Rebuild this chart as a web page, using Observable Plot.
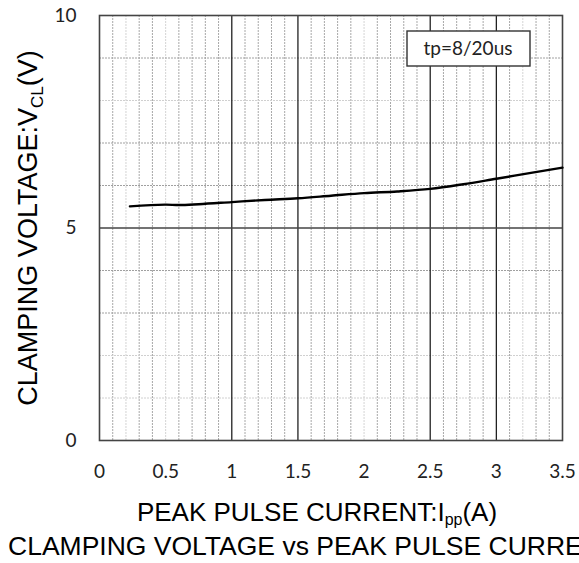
<!DOCTYPE html>
<html>
<head>
<meta charset="utf-8">
<script src="https://cdn.jsdelivr.net/npm/d3@7"></script>
<script src="https://cdn.jsdelivr.net/npm/@observablehq/plot@0.6"></script>
<style>
  html, body { margin: 0; padding: 0; background: #fff; }
  #chart svg { display: block; }
</style>
</head>
<body>
<div id="chart"></div>
<script>
// Data
const current = [0.23, 0.5, 0.6, 0.75, 1.0, 1.25, 1.5, 1.75, 2.0, 2.25, 2.5, 2.75, 3.0, 3.25, 3.5];
const voltage = [5.51, 5.55, 5.54, 5.56, 5.61, 5.66, 5.70, 5.76, 5.82, 5.86, 5.92, 6.03, 6.16, 6.29, 6.42];
const xTicks = [0, 0.5, 1, 1.5, 2, 2.5, 3, 3.5];
const yTicks = [0, 5, 10];
const xMajorGrid = [1, 1.5, 2.5, 3];
const xMinorDark = [0.1, 0.3, 0.4, 0.6, 0.7, 0.8, 0.9, 1.1, 1.2, 1.3, 1.4, 1.6, 1.7, 1.8, 1.9, 2.1, 2.2, 2.3, 2.4, 2.6, 2.7, 2.8, 2.9, 3.1, 3.3, 3.4];
const xMinorLight = [0.2, 0.5, 2.0, 3.2];
const yMajorGrid = [5];
const yMinorDark = [3, 4, 6, 7, 9];
const yMinorLight = [1, 2, 8];
const legendText = ["tp=8/20us"];

const data = current.map((c, i) => ({current: c, voltage: voltage[i]}));

const chart = Plot.plot({
  width: 579,
  height: 563,
  marginLeft: 99,
  marginRight: 17,
  marginTop: 15,
  marginBottom: 123,
  style: {background: "#fff"},
  x: {domain: [0, 3.5]},
  y: {domain: [0, 10]},
  marks: [
    Plot.ruleX(xMinorLight, {stroke: "#d4d4d4", strokeWidth: 1, strokeDasharray: "2,1"}),
    Plot.ruleX(xMinorDark, {stroke: "#a8a8a8", strokeWidth: 1, strokeDasharray: "2,1"}),
    Plot.ruleY(yMinorLight, {stroke: "#d0d0d0", strokeWidth: 1, strokeDasharray: "2,1"}),
    Plot.ruleY(yMinorDark, {stroke: "#a0a0a0", strokeWidth: 1, strokeDasharray: "2,1"}),
    Plot.ruleX(xMajorGrid, {stroke: "#222", strokeWidth: 1.3}),
    Plot.ruleY(yMajorGrid, {stroke: "#444", strokeWidth: 1.3}),
    Plot.frame({stroke: "#444", strokeWidth: 1.6}),
    Plot.line(data, {x: "current", y: "voltage", stroke: "#000", strokeWidth: 2.4, curve: "monotone-x"}),
    Plot.axisX(xTicks, {tickSize: 0, tickPadding: 24, fontSize: 19, fontFamily: "Lato", fill: "#222", label: null, tickFormat: d => String(d)}),
    Plot.axisY(yTicks, {tickSize: 0, tickPadding: 23, fontSize: 19, fontFamily: "Lato", fill: "#222", label: null, tickFormat: d => String(d)})
  ]
});
document.getElementById("chart").appendChild(chart);

const svg = d3.select(chart);
// Legend box and label
svg.append("rect")
  .attr("x", 407).attr("y", 31).attr("width", 123).attr("height", 35)
  .attr("fill", "#fff").attr("stroke", "#333").attr("stroke-width", 1.4);
svg.append("text")
  .attr("x", 468).attr("y", 55)
  .attr("text-anchor", "middle")
  .attr("font-family", "Lato").attr("font-size", 19).attr("fill", "#222")
  .text(legendText[0]);

// X axis title with subscript
const xt = svg.append("text")
  .attr("x", 317).attr("y", 521)
  .attr("text-anchor", "middle")
  .attr("font-family", "'Liberation Sans', Arial, sans-serif")
  .attr("font-size", 26).attr("fill", "#000");
xt.append("tspan").text("PEAK PULSE CURRENT:I");
xt.append("tspan").attr("font-size", 16).attr("dy", 4).text("pp");
xt.append("tspan").attr("dy", -4).text("(A)");

// Chart caption (clipped at right, as in reference)
svg.append("text")
  .attr("x", 8).attr("y", 555)
  .attr("text-anchor", "start")
  .attr("font-family", "'Liberation Sans', Arial, sans-serif")
  .attr("font-size", 26.5).attr("fill", "#000")
  .text("CLAMPING VOLTAGE vs PEAK PULSE CURRENT");

// Y axis title with subscript
const yt = svg.append("text")
  .attr("transform", "translate(37,228) rotate(-90)")
  .attr("text-anchor", "middle")
  .attr("font-family", "'Liberation Sans', Arial, sans-serif")
  .attr("font-size", 27).attr("fill", "#000");
yt.append("tspan").text("CLAMPING VOLTAGE:V");
yt.append("tspan").attr("font-size", 17).attr("dy", 6).text("CL");
yt.append("tspan").attr("dy", -6).text("(V)");
</script>
</body>
</html>
